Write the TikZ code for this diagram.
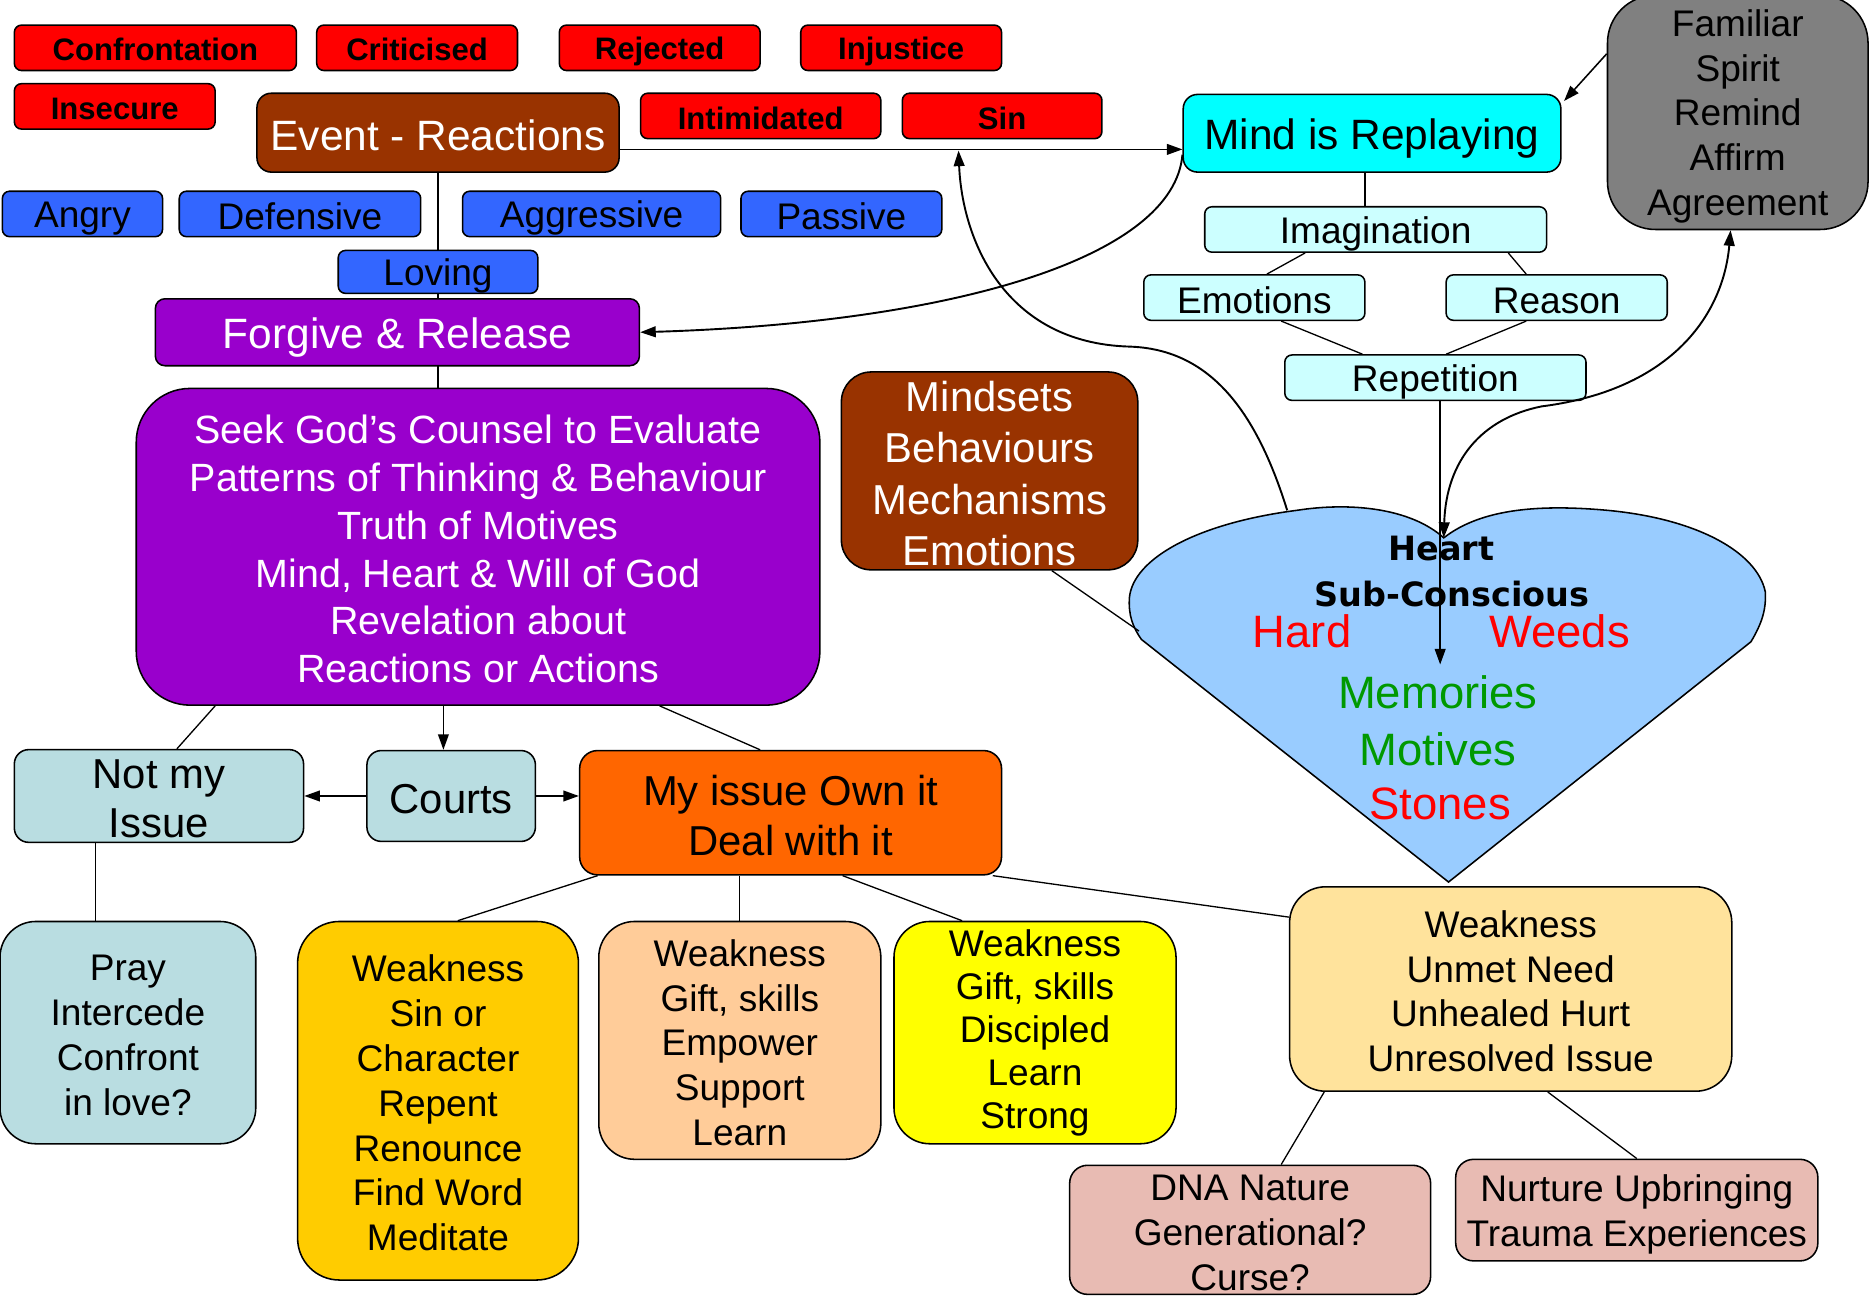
\documentclass[tikz,border=0pt]{standalone}
\usepackage{fontspec}
\setmainfont{Liberation Sans}
\newfontfamily\dvb{DejaVu Sans}
\usetikzlibrary{arrows.meta}
\newcommand\myfs[2]{\fontsize{#1}{#2}\selectfont}
\newcommand\boxstrut{\rule[-0.105em]{0pt}{1.055em}}
\newcommand\mstrut{\rule{0pt}{0.94em}}
\definecolor{cRed}{HTML}{FF0000}
\definecolor{cBrown}{HTML}{993300}
\definecolor{cBlue}{HTML}{3366FF}
\definecolor{cPurple}{HTML}{9900CC}
\definecolor{cTeal}{HTML}{B9DDE1}
\definecolor{cOrange}{HTML}{FF6600}
\definecolor{cGold}{HTML}{FFCC00}
\definecolor{cPeach}{HTML}{FFCC99}
\definecolor{cYellow}{HTML}{FFFF00}
\definecolor{cCream}{HTML}{FFE39C}
\definecolor{cRose}{HTML}{E8BBB3}
\definecolor{cCyan}{HTML}{00FFFF}
\definecolor{cPale}{HTML}{CCFFFF}
\definecolor{cGrey}{HTML}{808080}
\definecolor{cHeart}{HTML}{99CCFF}
\definecolor{cGreen}{HTML}{009900}
\begin{document}
\begin{tikzpicture}[x=1pt,y=-1pt,
  box/.style={draw=black, line width=1.3pt, inner sep=0pt, align=center,
    execute at begin node=\boxstrut, execute at end node=\boxstrut},
  redbox/.style={box, fill=cRed, rounded corners=6pt, minimum height=38pt, font=\bfseries\myfs{26}{30}},
  bluebox/.style={box, fill=cBlue, rounded corners=6pt, minimum height=38pt, font=\myfs{31}{36}},
  palebox/.style={box, fill=cPale, rounded corners=6pt, minimum height=38pt, font=\myfs{31}{36}},
  bigtxt/.style={font=\myfs{35.5}{42}},
  midtxt/.style={font=\myfs{31}{37.5}},
  conn/.style={line width=1.1pt},
  arr/.style={line width=1.3pt, -{Triangle[length=13pt,width=9pt]}},
  curvearr/.style={line width=1.6pt, -{Triangle[length=13pt,width=9pt]}}
]
\useasboundingbox (0,0) rectangle (1568,1090);

% red reaction boxes
\node[redbox, minimum width=236pt] (conf) at (130,40) {Confrontation};
\node[redbox, minimum width=168pt] (crit) at (349,40) {Criticised};
\node[redbox, minimum width=168pt] (rej) at (552,40) {Rejected};
\node[redbox, minimum width=168pt] (inj) at (754,40) {Injustice};
\node[redbox, minimum width=168pt] (insec) at (96,89) {Insecure};
\node[redbox, minimum width=201pt] (intim) at (636.5,97) {Intimidated};
\node[redbox, minimum width=167pt] (sin) at (838.5,97) {Sin};

% event
\node[box, fill=cBrown, text=white, rounded corners=12pt, minimum width=303pt, minimum height=66pt, bigtxt] (event) at (366.5,111) {Event - Reactions};

% blue
\node[bluebox, minimum width=134pt] (angry) at (69,179) {Angry};
\node[bluebox, minimum width=202pt] (def) at (251,179) {Defensive};
\node[bluebox, minimum width=216pt] (aggr) at (495,179) {Aggressive};
\node[bluebox, minimum width=168pt] (pass) at (704,179) {Passive};

% seek
\node[box, fill=cPurple, text=white, rounded corners=45pt, minimum width=572pt, minimum height=265pt, font=\myfs{33}{40}] (seek) at (400,457.5) {\mstrut Seek God’s Counsel to Evaluate\\Patterns of Thinking \& Behaviour\\Truth of Motives\\Mind, Heart \& Will of God\\Revelation about\\Reactions or Actions};
\draw[conn] (event.south) -- (event.south |- seek.north);

\node[bluebox, minimum width=167pt, minimum height=33pt] (loving) at (366.5,227.5) {Loving};
\node[box, fill=cPurple, text=white, rounded corners=8pt, minimum width=405pt, minimum height=56pt, bigtxt] (forgive) at (332.5,278) {Forgive \& Release};

% mindsets
\node[box, fill=cBrown, text=white, rounded corners=25pt, minimum width=248pt, minimum height=164pt, font=\myfs{35}{43}] (mindsets) at (828,394) {\mstrut Mindsets\\Behaviours\\Mechanisms\\Emotions};

% middle row
\node[box, fill=cTeal, rounded corners=12pt, minimum width=242pt, minimum height=76pt, font=\myfs{35}{41}] (notmy) at (133,666) {\mstrut Not my\\Issue};
\node[box, fill=cTeal, rounded corners=12pt, minimum width=141pt, minimum height=76pt, font=\myfs{35}{41}] (courts) at (377.5,666) {Courts};
\node[box, fill=cOrange, rounded corners=15pt, minimum width=353pt, minimum height=104pt, font=\myfs{35}{42}] (myissue) at (661.5,680) {\mstrut My issue Own it\\Deal with it};

% bottom row
\node[box, fill=cTeal, rounded corners=30pt, minimum width=214pt, minimum height=186pt, midtxt] (pray) at (107,864) {\mstrut Pray\\Intercede\\Confront\\in love?};
\node[box, fill=cGold, rounded corners=35pt, minimum width=235pt, minimum height=300pt, midtxt] (weaksin) at (366.5,921) {\mstrut Weakness\\Sin or\\Character\\Repent\\Renounce\\Find Word\\Meditate};
\node[box, fill=cPeach, rounded corners=30pt, minimum width=236pt, minimum height=199pt, midtxt] (weakemp) at (619,870.5) {\mstrut Weakness\\Gift, skills\\Empower\\Support\\Learn};
\node[box, fill=cYellow, rounded corners=30pt, minimum width=236pt, minimum height=186pt, font=\myfs{31}{36}] (weakdisc) at (866,864) {Weakness\\Gift, skills\\Discipled\\Learn\\Strong};
\node[box, fill=cCream, rounded corners=30pt, minimum width=370pt, minimum height=171pt, midtxt] (unmet) at (1264,827.5) {\mstrut Weakness\\Unmet Need\\Unhealed Hurt\\Unresolved Issue};
\node[box, fill=cRose, rounded corners=15pt, minimum width=302pt, minimum height=108pt, midtxt] (dna) at (1046,1029) {\mstrut DNA Nature\\Generational?\\Curse?};
\node[box, fill=cRose, rounded corners=15pt, minimum width=303pt, minimum height=85pt, midtxt] (nurture) at (1369.5,1012.5) {\mstrut Nurture Upbringing\\Trauma Experiences};

% right top
\node[box, fill=cCyan, rounded corners=12pt, minimum width=316pt, minimum height=65pt, bigtxt] (mind) at (1148,111.5) {Mind is Replaying};
\node[palebox, minimum width=286pt] (imag) at (1151,192) {Imagination};
\node[palebox, minimum width=185pt] (emo) at (1049.5,249) {Emotions};
\node[palebox, minimum width=185pt] (reason) at (1302.5,249) {Reason};
\node[palebox, minimum width=252pt] (rep) at (1201,316) {Repetition};
\node[box, fill=cGrey, rounded corners=40pt, minimum width=218pt, minimum height=196pt, font=\myfs{31}{37.3}] (familiar) at (1454,94) {\mstrut Familiar\\Spirit\\Remind\\Affirm\\Agreement};

% heart
\draw[line width=1.3pt, fill=cHeart] (1208,450) .. controls (1180,425) and (1130,420) .. (1085,427)
  .. controls (1000,438) and (948,468) .. (945,500)
  .. controls (944,515) and (948,525) .. (955,535) -- (1212,738) -- (1465,537)
  .. controls (1474,522) and (1478,510) .. (1477,495)
  .. controls (1470,462) and (1420,434) .. (1345,427)
  .. controls (1290,422) and (1240,425) .. (1208,450) -- cycle;
\coordinate (heartdip) at (1208,450);
\coordinate (heartTL) at (1077,427);
\coordinate (heartL) at (953,528);
\coordinate (heartin) at (1205,556);
\coordinate (sinhit) at (802,126);

\node[font=\dvb\bfseries\myfs{28}{32}] (htitle) at (1206,459) {Heart};
\node[font=\dvb\bfseries\myfs{28}{32}] (hsub) at (1215,497) {Sub-Conscious};
\node[font=\myfs{38}{44}, text=cRed] (hard) at (1089.5,528) {Hard};
\node[font=\myfs{38}{44}, text=cRed] (weeds) at (1305,528) {Weeds};
\node[font=\myfs{38}{44}, text=cGreen] (memories) at (1203,579) {Memories};
\node[font=\myfs{38}{44}, text=cGreen] (motives) at (1203,627) {Motives};
\node[font=\myfs{38}{44}, text=cRed] (stones) at (1205,673) {Stones};

% connectors
\draw[conn] (loving.south -| event.south) -- (event.south |- forgive.north);
\draw[arr] ([yshift=-14pt]event.east) -- ([yshift=-14pt]event.east -| mind.west);
\draw[curvearr] ([yshift=-18pt]mind.west) .. controls (982,215) and (800,270) .. (forgive.east);
\draw[curvearr] (heartTL) .. controls (1050,340) and (1010,292) .. (945,290) .. controls (840,287) and (805,200) .. (sinhit);
\draw[curvearr, {Triangle[length=13pt,width=9pt]}-{Triangle[length=13pt,width=9pt]}] (heartdip) .. controls (1210,385) and (1240,350) .. (1290,340) .. controls (1400,326) and (1442,262) .. ([xshift=-6pt]familiar.south);
\draw[arr] ([yshift=49pt]familiar.west) -- ([xshift=2pt,yshift=27pt]mind.east);
\draw[arr] ([xshift=4pt]rep.south) -- (heartin);
\draw[conn] ([xshift=52pt]mindsets.south) -- (heartL);

\draw[conn] ([xshift=-6pt]mind.south) -- ([xshift=-9pt]imag.north);
\draw[conn] ([xshift=-59pt]imag.south) -- ([xshift=10.5pt]emo.north);
\draw[conn] ([xshift=111pt]imag.south) -- ([xshift=-25.5pt]reason.north);
\draw[conn] ([xshift=22.5pt]emo.south) -- ([xshift=-61pt]rep.north);
\draw[conn] ([xshift=-25.5pt]reason.south) -- ([xshift=9pt]rep.north);

\draw[conn] ([xshift=-220pt]seek.south) -- ([xshift=15pt]notmy.north);
\draw[arr] ([xshift=-29pt]seek.south) -- ([xshift=-6.5pt]courts.north);
\draw[conn] ([xshift=152pt]seek.south) -- ([xshift=-25.5pt]myissue.north);
\draw[arr] (courts.west) -- (notmy.east);
\draw[arr] (courts.east) -- (courts.east -| myissue.west);
\draw[conn] ([xshift=-53pt]notmy.south) -- ([xshift=-27pt]pray.north);
\draw[conn] ([xshift=-161.5pt]myissue.south) -- ([xshift=16.5pt]weaksin.north);
\draw[conn] ([xshift=-42.5pt]myissue.south) -- (weakemp.north);
\draw[conn] ([xshift=43.5pt]myissue.south) -- ([xshift=-61pt]weakdisc.north);
\draw[conn] ([xshift=-8pt]myissue.south east) -- ([yshift=-26pt]unmet.north west);
\draw[conn] ([xshift=-156pt]unmet.south) -- ([xshift=26pt]dna.north);
\draw[conn] ([xshift=31pt]unmet.south) -- (nurture.north);
\end{tikzpicture}
\end{document}
